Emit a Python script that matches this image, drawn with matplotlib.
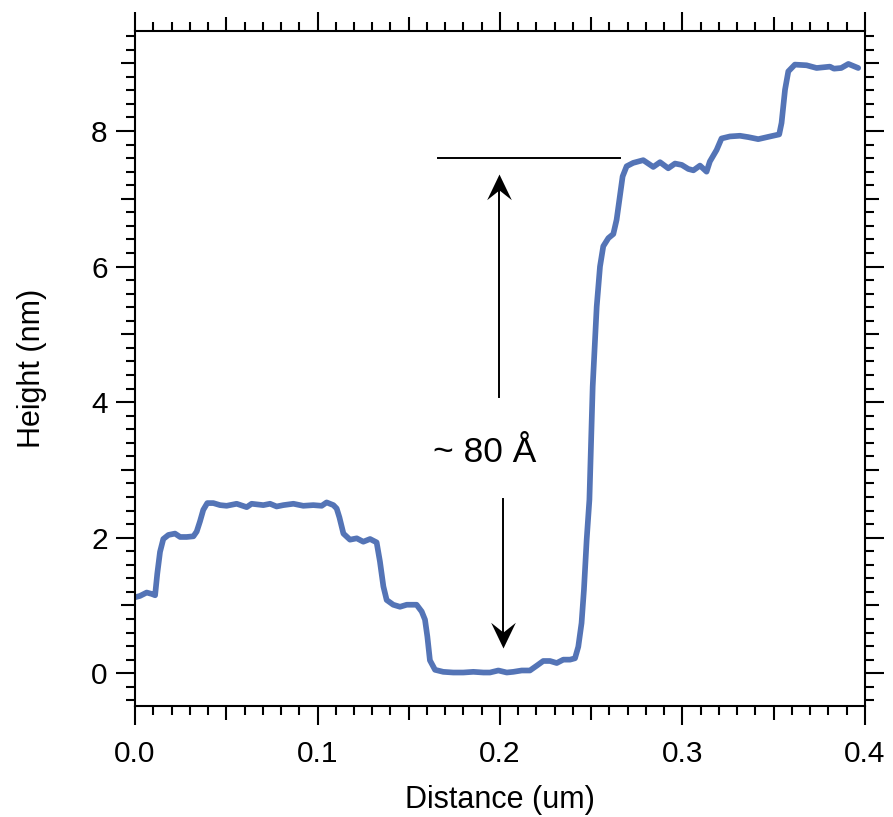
import matplotlib
matplotlib.use("Agg")
import matplotlib.pyplot as plt
from matplotlib.ticker import MultipleLocator, FuncFormatter
from matplotlib.path import Path

plt.rcParams['font.family'] = ['Liberation Sans', 'DejaVu Sans']

# height profile
distance = [0.0000, 0.0027, 0.0064, 0.0091, 0.0110, 0.0122, 0.0137, 0.0155, 0.0183, 0.0219,
            0.0247, 0.0283, 0.0320, 0.0338, 0.0356, 0.0374, 0.0396, 0.0429, 0.0466, 0.0502,
            0.0557, 0.0612, 0.0639, 0.0703, 0.0740, 0.0776, 0.0813, 0.0868, 0.0922, 0.0977,
            0.1023, 0.1050, 0.1087, 0.1105, 0.1120, 0.1142, 0.1178, 0.1215, 0.1251, 0.1288,
            0.1324, 0.1342, 0.1361, 0.1379, 0.1415, 0.1452, 0.1489, 0.1543, 0.1571, 0.1589,
            0.1602, 0.1616, 0.1644, 0.1689, 0.1744, 0.1799, 0.1854, 0.1909, 0.1945, 0.1991,
            0.2037, 0.2073, 0.2119, 0.2164, 0.2201, 0.2237, 0.2274, 0.2311, 0.2347, 0.2384,
            0.2411, 0.2429, 0.2447, 0.2460, 0.2475, 0.2490, 0.2508, 0.2530, 0.2548, 0.2566,
            0.2594, 0.2621, 0.2639, 0.2654, 0.2672, 0.2694, 0.2730, 0.2785, 0.2840, 0.2877,
            0.2922, 0.2959, 0.2996, 0.3032, 0.3060, 0.3096, 0.3132, 0.3150, 0.3187, 0.3214,
            0.3260, 0.3315, 0.3361, 0.3415, 0.3480, 0.3530, 0.3543, 0.3562, 0.3580, 0.3616,
            0.3680, 0.3735, 0.3808, 0.3830, 0.3870, 0.3909, 0.3963]
height = [1.12, 1.14, 1.19, 1.17, 1.15, 1.47, 1.79, 1.98, 2.04, 2.06,
          2.01, 2.01, 2.02, 2.09, 2.24, 2.41, 2.51, 2.51, 2.48, 2.47,
          2.50, 2.45, 2.50, 2.48, 2.50, 2.46, 2.48, 2.50, 2.47, 2.48,
          2.47, 2.52, 2.48, 2.43, 2.30, 2.06, 1.97, 1.99, 1.94, 1.98,
          1.93, 1.65, 1.28, 1.08, 1.01, 0.98, 1.01, 1.01, 0.91, 0.79,
          0.54, 0.19, 0.05, 0.02, 0.01, 0.01, 0.02, 0.01, 0.01, 0.04,
          0.01, 0.02, 0.04, 0.04, 0.11, 0.18, 0.18, 0.15, 0.20, 0.20,
          0.22, 0.39, 0.74, 1.23, 1.97, 2.56, 4.23, 5.41, 6.00, 6.30,
          6.42, 6.48, 6.69, 6.98, 7.33, 7.48, 7.53, 7.57, 7.47, 7.54,
          7.45, 7.52, 7.50, 7.44, 7.42, 7.49, 7.40, 7.55, 7.72, 7.89,
          7.92, 7.93, 7.91, 7.88, 7.92, 7.95, 8.12, 8.61, 8.88, 8.98,
          8.97, 8.93, 8.95, 8.92, 8.93, 8.99, 8.93]

# annotation: reference level, arrows and step label
ref_x = [0.1659, 0.2658]
ref_y = 7.60
up_arrow = (0.1997, 4.08, 7.36)     # x, tail, tip
down_arrow = (0.2015, 2.57, 0.37)
step_text = "~ 80 Å"
step_pos = (0.1915, 3.12)

fig = plt.figure(figsize=(8.93, 8.17), dpi=100)
ax = fig.add_axes([0.1512, 0.1362, 0.8174, 0.8262])

ax.plot(distance, height, color='#5474b6', lw=4.1, solid_capstyle='round', solid_joinstyle='round')

ax.plot(ref_x, [ref_y, ref_y], color='black', lw=1.4)

# arrow heads with a notched back
head_up = Path([(0, 0), (-0.48, -1.0), (0, -0.62), (0.48, -1.0), (0, 0)],
               [Path.MOVETO, Path.LINETO, Path.LINETO, Path.LINETO, Path.CLOSEPOLY])
head_down = Path([(0, 0), (-0.48, 1.0), (0, 0.62), (0.48, 1.0), (0, 0)],
                 [Path.MOVETO, Path.LINETO, Path.LINETO, Path.LINETO, Path.CLOSEPOLY])
hl = 0.2  # data units under the head, keep the shaft inside it
ax.plot([up_arrow[0], up_arrow[0]], [up_arrow[1], up_arrow[2] - hl], color='black', lw=1.4)
ax.plot([up_arrow[0]], [up_arrow[2]], marker=head_up, ms=37, color='black', mew=0)
ax.plot([down_arrow[0], down_arrow[0]], [down_arrow[1], down_arrow[2] + hl], color='black', lw=1.4)
ax.plot([down_arrow[0]], [down_arrow[2]], marker=head_down, ms=37, color='black', mew=0)

ax.text(step_pos[0], step_pos[1], step_text, fontsize=25.5, ha='center', va='baseline')

ax.set_xlim(0, 0.4)
ax.set_ylim(-0.48, 9.48)

for s in ax.spines.values():
    s.set_linewidth(1.5)

ax.xaxis.set_major_locator(MultipleLocator(0.05))
ax.xaxis.set_minor_locator(MultipleLocator(0.01))
ax.yaxis.set_major_locator(MultipleLocator(1))
ax.yaxis.set_minor_locator(MultipleLocator(0.2))

def xfmt(v, pos):
    if abs(v / 0.1 - round(v / 0.1)) < 1e-6:
        return "%.1f" % v
    return ""

def yfmt(v, pos):
    if int(round(v)) % 2 == 0:
        return "%d" % round(v)
    return ""

ax.xaxis.set_major_formatter(FuncFormatter(xfmt))
ax.yaxis.set_major_formatter(FuncFormatter(yfmt))

ax.tick_params(which='both', direction='out', top=True, right=True, width=1.5, labelsize=21.5)
ax.tick_params(which='major', length=13.7)
ax.tick_params(which='minor', length=6.5)
ax.tick_params(axis='x', which='major', pad=11)
ax.tick_params(axis='y', which='major', pad=6)

# medium ticks at the unlabelled majors
for t, v in zip(ax.xaxis.get_major_ticks(), ax.xaxis.get_majorticklocs()):
    if xfmt(v, None) == "":
        t.tick1line.set_markersize(10)
        t.tick2line.set_markersize(10)
for t, v in zip(ax.yaxis.get_major_ticks(), ax.yaxis.get_majorticklocs()):
    if yfmt(v, None) == "":
        t.tick1line.set_markersize(10)
        t.tick2line.set_markersize(10)

ax.set_xlabel("Distance (um)", fontsize=22, labelpad=12)
ax.set_ylabel("Height (nm)", fontsize=22, labelpad=32)

fig.savefig("out.png", dpi=100)
